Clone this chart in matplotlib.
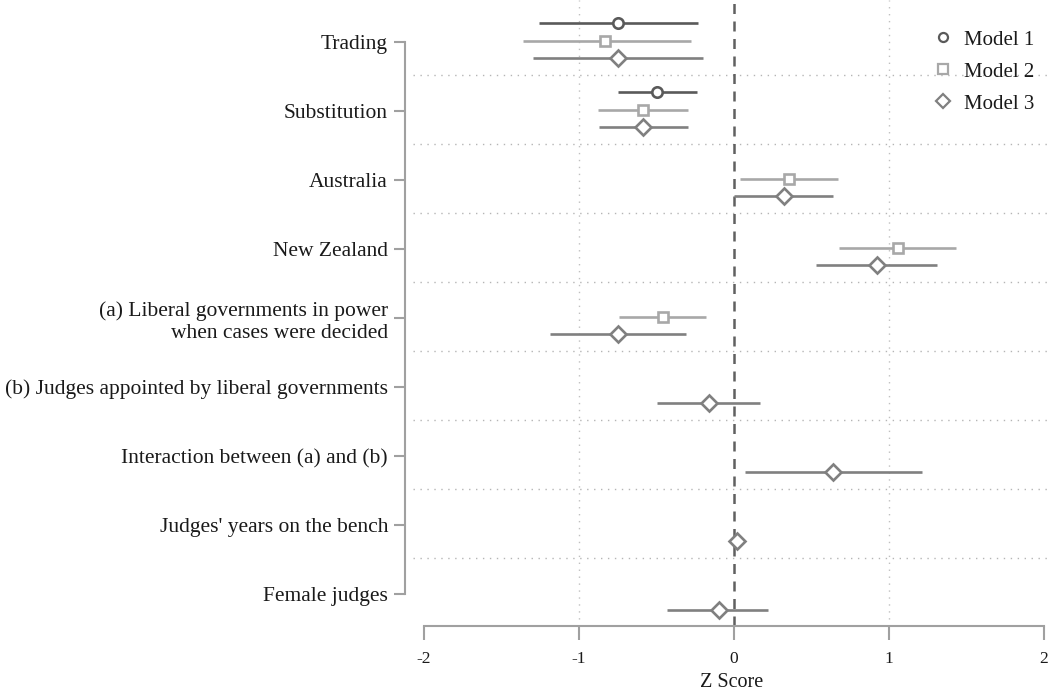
import matplotlib
matplotlib.use("Agg")
import matplotlib.pyplot as plt
import numpy as np

plt.rcParams['font.family'] = ['Liberation Serif', 'DejaVu Serif']

categories = ["Trading", "Substitution", "Australia", "New Zealand",
              "(a) Liberal governments in power\nwhen cases were decided",
              "(b) Judges appointed by liberal governments",
              "Interaction between (a) and (b)",
              "Judges' years on the bench", "Female judges"]
models = ["Model 1", "Model 2", "Model 3"]

# point estimates, lower and upper CI (None = not in model)
m1_est = [-0.75, -0.50, None, None, None, None, None, None, None]
m1_lo  = [-1.26, -0.75, None, None, None, None, None, None, None]
m1_hi  = [-0.23, -0.24, None, None, None, None, None, None, None]

m2_est = [-0.83, -0.59, 0.355, 1.06, -0.46, None, None, None, None]
m2_lo  = [-1.36, -0.88, 0.04, 0.68, -0.74, None, None, None, None]
m2_hi  = [-0.28, -0.30, 0.67, 1.43, -0.18, None, None, None, None]

m3_est = [-0.75, -0.59, 0.32, 0.92, -0.75, -0.16, 0.64, 0.02, -0.10]
m3_lo  = [-1.30, -0.87, 0.00, 0.53, -1.19, -0.50, 0.07, 0.00, -0.43]
m3_hi  = [-0.20, -0.30, 0.64, 1.31, -0.31, 0.17, 1.21, 0.04, 0.22]

xticks = [-2, -1, 0, 1, 2]
xtick_labels = ["-2", "-1", "0", "1", "2"]

W, H = 1050, 696
fig = plt.figure(figsize=(W/100, H/100), dpi=100)
ax_left, ax_right, ax_top, ax_bottom = 413, 1050, 0, 626
ax = fig.add_axes([ax_left/W, 1 - ax_bottom/H, (ax_right-ax_left)/W, (ax_bottom-ax_top)/H])

colors = ["#5a5a5a", "#a8a8a8", "#808080"]
markers = ["o", "s", "D"]
offsets = [-0.28, -0.02, 0.23]

series = [(m1_est, m1_lo, m1_hi), (m2_est, m2_lo, m2_hi), (m3_est, m3_lo, m3_hi)]

n = len(categories)
for i in range(n - 1):
    ax.axhline(i + 0.475, color="#b5b5b5", lw=1.0, ls=(0, (1, 4)), zorder=1)
for xv in [-1, 1]:
    ax.axvline(xv, color="#c0c0c0", lw=1.0, ls=(0, (1, 4)), zorder=1)
ax.axvline(0, color="#606060", lw=1.8, ls=(0, (4, 3)), zorder=2)

for k, (est, lo, hi) in enumerate(series):
    for i in range(n):
        if est[i] is None:
            continue
        y = i + offsets[k]
        ax.plot([lo[i], hi[i]], [y, y], color=colors[k], lw=1.9, solid_capstyle="butt", zorder=3)
        ax.plot([est[i]], [y], marker=markers[k], ms=7.5 if markers[k] != "D" else 8.5,
                mfc="white", mec=colors[k], mew=1.9, ls="none", zorder=4)

ax.set_xlim((ax_left - 734) / 155, (ax_right - 734) / 155)
ax.set_ylim((ax_bottom - 42) / 69, (ax_top - 42) / 69)

for s in ["top", "right"]:
    ax.spines[s].set_visible(False)
ax.spines["left"].set_position(("outward", 6))
ax.spines["left"].set_bounds(0, n - 1)
ax.spines["bottom"].set_bounds(-2, 2)
for s in ["left", "bottom"]:
    ax.spines[s].set_color("#a0a0a0")
    ax.spines[s].set_linewidth(1.5)
ax.tick_params(axis="both", colors="#a0a0a0", width=1.5)
ax.tick_params(axis="y", length=8, pad=4, labelcolor="#1a1a1a", labelsize=15.5)
ax.tick_params(axis="x", length=10, pad=8, labelcolor="#1a1a1a", labelsize=12.5)

ax.set_xticks(xticks)
ax.set_xticklabels(xtick_labels)
ax.set_yticks(range(n))
ax.set_yticklabels(categories, linespacing=1.25)
ax.set_xlabel("Z Score", fontsize=14.5, color="#1a1a1a", labelpad=4)

handles = [plt.Line2D([], [], marker=markers[k], ms=6.5 if markers[k] != "D" else 7.5,
                      mfc="white", mec=colors[k], mew=1.6, ls="none") for k in range(3)]
leg = ax.legend(handles, models, loc="upper right", bbox_to_anchor=(1.005, 0.982),
                frameon=False, fontsize=15, handletextpad=0.4, labelspacing=0.6,
                handlelength=1.2)
for t in leg.get_texts():
    t.set_color("#1a1a1a")

fig.savefig("out.png", dpi=100)
